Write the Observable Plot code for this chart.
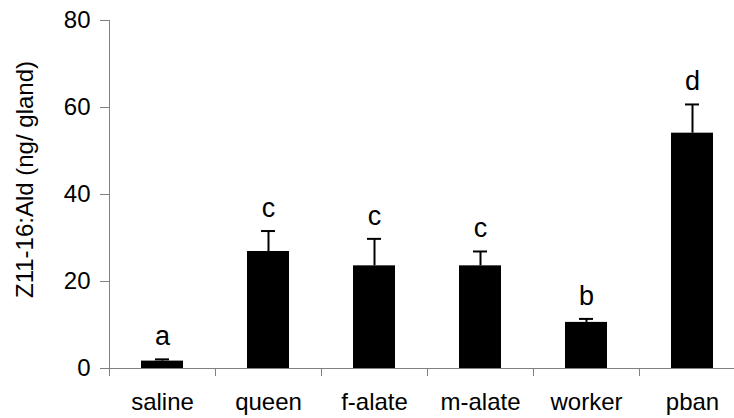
<!DOCTYPE html>
<html>
<head>
<meta charset="utf-8">
<script src="https://cdn.jsdelivr.net/npm/d3@7"></script>
<script src="https://cdn.jsdelivr.net/npm/@observablehq/plot@0.6"></script>
<style>
  html, body { margin: 0; padding: 0; background: #fff; }
  svg { display: block; }
</style>
</head>
<body>
<div id="chart"></div>
<script>
const categories = ["saline", "queen", "f-alate", "m-alate", "worker", "pban"];
const means = [1.7, 26.9, 23.6, 23.6, 10.6, 54.1];
const errors = [0.4, 4.7, 6.2, 3.3, 0.8, 6.6];
const letters = ["a", "c", "c", "c", "b", "d"];
const yTicks = [0, 20, 40, 60, 80];
const yLabel = "Z11-16:Ald (ng/ gland)";

const data = categories.map((c, i) => ({cat: c, mean: means[i], err: errors[i], top: means[i] + errors[i], letter: letters[i]}));

const axisGray = "#808080";
const font = "Liberation Sans, Arial, Helvetica, sans-serif";

const plot = Plot.plot({
  width: 734,
  height: 418,
  marginLeft: 109,
  marginRight: 0,
  marginTop: 20,
  marginBottom: 50,
  style: {fontFamily: font, background: "#fff", color: "#000"},
  x: {domain: categories, range: [109, 745], paddingInner: 0.6, paddingOuter: 0.3},
  y: {domain: [0, 80]},
  marks: [
    Plot.frame({anchor: "left", stroke: axisGray}),
    Plot.axisY({ticks: yTicks, tickSize: 9, tickPadding: 10, fontSize: 24, stroke: axisGray, color: "#000", label: null}),
    Plot.text([yLabel], {frameAnchor: "left", textAnchor: "middle", rotate: -90, dx: -84, dy: -15, fontSize: 24, fill: "#000"}),
    Plot.axisX({tickSize: 0, tickPadding: 24, fontSize: 24, label: null, color: "#000"}),
    Plot.ruleX(categories, {x: d => d, dx: -53, insetTop: 348, insetBottom: -8, stroke: axisGray}),
    Plot.barY(data, {x: "cat", y: "mean", fill: "#000"}),
    Plot.ruleX(data, {x: "cat", y1: "mean", y2: "top", stroke: "#000", strokeWidth: 2}),
    Plot.tickY(data, {x: "cat", y: "top", stroke: "#000", strokeWidth: 2, insetLeft: 14, insetRight: 14}),
    Plot.ruleY([0], {stroke: axisGray}),
    Plot.text(data, {x: "cat", y: "top", text: "letter", dy: -14, lineAnchor: "bottom", fontSize: 27, fill: "#000"})
  ]
});
document.getElementById("chart").appendChild(plot);
</script>
</body>
</html>
